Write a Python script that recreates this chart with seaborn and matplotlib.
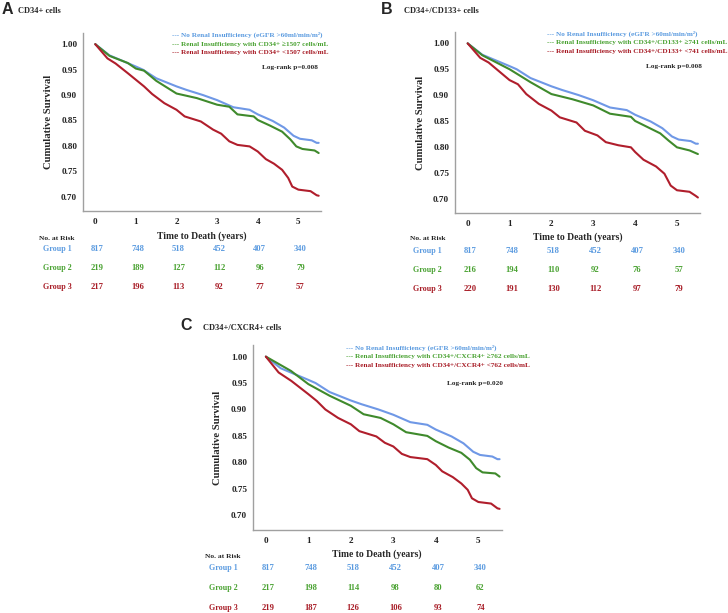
import matplotlib
matplotlib.use("Agg")
import matplotlib.pyplot as plt
import seaborn as sns
import pandas as pd

# Group 1 (no renal insufficiency) is the same reference curve in every panel
time_g1 = [0, 0.35, 1.0, 1.17, 1.5, 2.0, 2.25, 2.65, 3.0, 3.4, 3.8, 4.0, 4.37, 4.65, 4.88, 5.04, 5.33, 5.45, 5.5]
surv_g1 = [1.0, 0.978, 0.956, 0.950, 0.933, 0.917, 0.910, 0.900, 0.890, 0.876, 0.871, 0.862, 0.849, 0.836, 0.820, 0.814, 0.811, 0.806, 0.806]

# Panel A - CD34+
time_a_g2 = [0, 0.35, 0.8, 1.0, 1.2, 1.5, 2.0, 2.5, 3.0, 3.3, 3.5, 3.9, 4.0, 4.3, 4.6, 4.8, 4.95, 5.1, 5.4, 5.5]
surv_a_g2 = [1.0, 0.977, 0.963, 0.952, 0.948, 0.928, 0.903, 0.894, 0.881, 0.877, 0.862, 0.858, 0.851, 0.840, 0.828, 0.813, 0.799, 0.794, 0.791, 0.786]
time_a_g3 = [0, 0.3, 0.5, 0.8, 1.0, 1.2, 1.4, 1.7, 2.0, 2.2, 2.6, 2.9, 3.1, 3.3, 3.5, 3.8, 4.0, 4.2, 4.4, 4.6, 4.75, 4.85, 5.0, 5.3, 5.45, 5.5]
surv_a_g3 = [1.0, 0.972, 0.962, 0.943, 0.930, 0.917, 0.902, 0.884, 0.871, 0.858, 0.848, 0.832, 0.824, 0.809, 0.802, 0.799, 0.789, 0.774, 0.765, 0.753, 0.737, 0.720, 0.714, 0.711, 0.703, 0.702]

# Panel B - CD34+/CD133+
time_b_g2 = [0, 0.35, 1.0, 1.5, 2.0, 2.5, 3.0, 3.4, 3.9, 4.0, 4.3, 4.6, 4.8, 5.0, 5.3, 5.5]
surv_b_g2 = [1.0, 0.977, 0.950, 0.925, 0.902, 0.892, 0.880, 0.864, 0.858, 0.850, 0.838, 0.826, 0.812, 0.799, 0.793, 0.786]
time_b_g3 = [0, 0.3, 0.5, 1.0, 1.2, 1.4, 1.7, 2.0, 2.2, 2.6, 2.8, 3.1, 3.3, 3.6, 3.9, 4.0, 4.2, 4.5, 4.7, 4.85, 5.0, 5.3, 5.45, 5.5]
surv_b_g3 = [1.0, 0.972, 0.963, 0.929, 0.921, 0.902, 0.883, 0.870, 0.857, 0.847, 0.831, 0.822, 0.809, 0.803, 0.799, 0.790, 0.775, 0.762, 0.748, 0.725, 0.716, 0.713, 0.705, 0.702]

# Panel C - CD34+/CXCR4+
time_c_g2 = [0, 0.59, 1.0, 1.5, 2.0, 2.3, 2.7, 3.0, 3.3, 3.8, 4.0, 4.3, 4.6, 4.8, 4.95, 5.1, 5.4, 5.5]
surv_c_g2 = [1.0, 0.973, 0.948, 0.926, 0.907, 0.891, 0.884, 0.872, 0.857, 0.850, 0.840, 0.828, 0.818, 0.805, 0.789, 0.781, 0.779, 0.773]
time_c_g3 = [0, 0.3, 0.6, 1.0, 1.2, 1.4, 1.7, 2.0, 2.2, 2.6, 2.8, 3.0, 3.2, 3.4, 3.8, 4.0, 4.15, 4.4, 4.6, 4.75, 4.85, 5.0, 5.3, 5.45, 5.5]
surv_c_g3 = [1.0, 0.970, 0.954, 0.929, 0.916, 0.900, 0.884, 0.872, 0.859, 0.849, 0.837, 0.830, 0.816, 0.810, 0.806, 0.795, 0.783, 0.772, 0.760, 0.748, 0.732, 0.725, 0.722, 0.713, 0.712]

# number at risk, read at years 0..5
risk_years = [0, 1, 2, 3, 4, 5]
risk_g1 = [817, 748, 518, 452, 407, 340]
risk_a_g2 = [219, 189, 127, 112, 96, 79]
risk_a_g3 = [217, 196, 113, 92, 77, 57]
risk_b_g2 = [216, 194, 110, 92, 76, 57]
risk_b_g3 = [220, 191, 130, 112, 97, 79]
risk_c_g2 = [217, 198, 114, 98, 80, 62]
risk_c_g3 = [219, 187, 126, 106, 93, 74]

group_names = ["Group 1", "Group 2", "Group 3"]
p_values = ["0.008", "0.008", "0.020"]

LINE_COLORS = ["#6f98e6", "#3f8a2c", "#b01e2c"]
TEXT_COLORS = ["#5b9be0", "#4aa232", "#a81c26"]

W, H = 728, 613

sns.set_style("white")
plt.rcParams["font.family"] = ["Liberation Serif", "DejaVu Serif"]
plt.rcParams["font.weight"] = "bold"


def fx(px):
    return px / W


def fy(py):
    return 1 - py / H


def draw_panel(fig, cfg):
    l, t, r, b = cfg["box"]
    ax = fig.add_axes([fx(l), fy(b), fx(r - l), (b - t) / H])
    for i, (tt, ss) in enumerate(cfg["curves"]):
        df = pd.DataFrame({"t": tt, "s": ss})
        sns.lineplot(data=df, x="t", y="s", ax=ax, color=LINE_COLORS[i],
                     lw=1.5, estimator=None, sort=False)
    ax.set_xlim(-0.31, 5.55)
    ax.set_ylim(0.672, 1.022)
    ax.set_xticks(risk_years)
    ax.set_yticks([0.70, 0.75, 0.80, 0.85, 0.90, 0.95, 1.00])
    ax.set_yticklabels(["0.70", "0.75", "0.80", "0.85", "0.90", "0.95", "1.00"])
    ax.tick_params(length=0, labelsize=6.6, colors="#222222")
    ax.tick_params(axis="x", pad=5)
    ax.tick_params(axis="y", pad=4)
    for lab in ax.get_xticklabels() + ax.get_yticklabels():
        lab.set_fontweight("bold")
    for side in ["top", "right"]:
        ax.spines[side].set_visible(False)
    for side in ["left", "bottom"]:
        ax.spines[side].set_color("#a0a0a0")
        ax.spines[side].set_linewidth(1.0)
    ax.set_xlabel("Time to Death (years)", fontsize=6.9, fontweight="bold")
    ax.set_ylabel("Cumulative Survival", fontsize=7.7, fontweight="bold")
    ax.xaxis.set_label_coords(0.5, cfg["xlab_y"])
    ax.yaxis.set_label_coords(cfg["ylab_x"], 0.5)

    # panel letter and title
    fig.text(fx(cfg["letter"][0]), fy(cfg["letter"][1]), cfg["letter_txt"],
             family="Liberation Sans", fontsize=11.5, fontweight="bold",
             va="center", ha="left")
    fig.text(fx(cfg["title"][0]), fy(cfg["title"][1]), cfg["title_txt"],
             fontsize=6, fontweight="bold", va="center", ha="left")

    # legend as coloured text lines
    lx, ly = cfg["legend"]
    for i, txt in enumerate(cfg["legend_txt"]):
        fig.text(fx(lx), fy(ly + i * 8.8), "--- " + txt, color=TEXT_COLORS[i],
                 fontsize=5.2, fontweight="bold", va="center", ha="left")
    fig.text(fx(cfg["logrank"][0]), fy(cfg["logrank"][1]),
             "Log-rank p=" + cfg["p"], fontsize=5.2, fontweight="bold",
             va="center", ha="right")

    # number at risk table
    gx, ny, rows_y = cfg["risk"]
    fig.text(fx(gx), fy(ny), "No. at Risk", fontsize=5.4, fontweight="bold",
             va="center", ha="center")
    for i, counts in enumerate(cfg["risk_rows"]):
        fig.text(fx(gx), fy(rows_y[i]), group_names[i], color=TEXT_COLORS[i],
                 fontsize=5.8, fontweight="bold", va="center", ha="center")
        for yr, n in zip(risk_years, counts):
            ax.annotate(str(n), xy=(yr + 0.05, fy(rows_y[i])),
                        xycoords=("data", "figure fraction"),
                        color=TEXT_COLORS[i], fontsize=6.2, fontweight="bold",
                        va="center", ha="center", annotation_clip=False)
    return ax


panels = [
    dict(box=(82.7, 33, 320.7, 211),
         curves=[(time_g1, surv_g1), (time_a_g2, surv_a_g2), (time_a_g3, surv_a_g3)],
         letter=(2, 9), letter_txt="A", title=(18, 11), title_txt="CD34+ cells",
         legend=(172, 35),
         legend_txt=["No Renal Insufficiency (eGFR >60ml/min/m²)",
                     "Renal Insufficiency with CD34+ ≥1507 cells/mL",
                     "Renal Insufficiency with CD34+ <1507 cells/mL"],
         logrank=(318, 67), p=p_values[0],
         risk=(57, 238, [249, 268, 287]),
         risk_rows=[risk_g1, risk_a_g2, risk_a_g3],
         xlab_y=-0.115, ylab_x=-0.125),
    dict(box=(454.7, 32, 700, 213),
         curves=[(time_g1, surv_g1), (time_b_g2, surv_b_g2), (time_b_g3, surv_b_g3)],
         letter=(381, 9), letter_txt="B", title=(404, 11), title_txt="CD34+/CD133+ cells",
         legend=(546.7, 33.5),
         legend_txt=["No Renal Insufficiency (eGFR >60ml/min/m²)",
                     "Renal Insufficiency with CD34+/CD133+ ≥741 cells/mL",
                     "Renal Insufficiency with CD34+/CD133+ <741 cells/mL"],
         logrank=(702, 66.7), p=p_values[1],
         risk=(427.5, 239, [251, 270, 289]),
         risk_rows=[risk_g1, risk_b_g2, risk_b_g3],
         xlab_y=-0.108, ylab_x=-0.121),
    dict(box=(252.7, 345, 501.7, 530),
         curves=[(time_g1, surv_g1), (time_c_g2, surv_c_g2), (time_c_g3, surv_c_g3)],
         letter=(180, 325), letter_txt="C", title=(203, 328), title_txt="CD34+/CXCR4+ cells",
         legend=(346, 347.7),
         legend_txt=["No Renal Insufficiency (eGFR >60ml/min/m²)",
                     "Renal Insufficiency with CD34+/CXCR4+ ≥762 cells/mL",
                     "Renal Insufficiency with CD34+/CXCR4+ <762 cells/mL"],
         logrank=(502.7, 384), p=p_values[2],
         risk=(223, 557, [568, 588, 608]),
         risk_rows=[risk_g1, risk_c_g2, risk_c_g3],
         xlab_y=-0.105, ylab_x=-0.125),
]

fig = plt.figure(figsize=(W / 100, H / 100), dpi=100)
for cfg in panels:
    draw_panel(fig, cfg)

fig.savefig("out.png", dpi=100)
plt.close(fig)
